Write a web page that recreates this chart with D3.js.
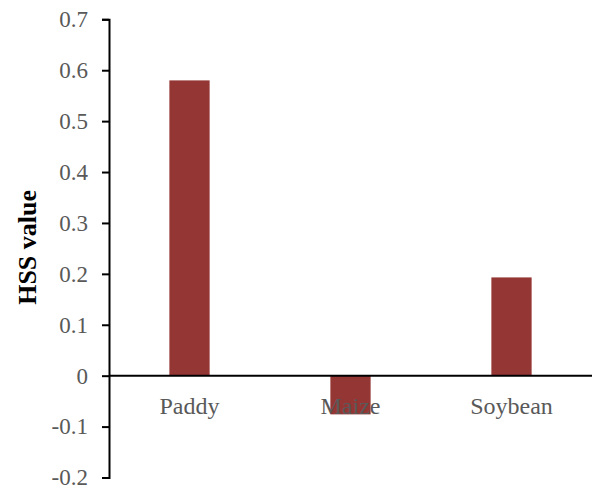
<!DOCTYPE html>
<html>
<head>
<meta charset="utf-8">
<script src="https://cdn.jsdelivr.net/npm/d3@7"></script>
<style>
  html, body { margin: 0; padding: 0; background: #fff; }
  svg { display: block; }
</style>
</head>
<body>
<svg id="chart" width="592" height="488"></svg>
<script>
// HSS score per crop
const crops = ["Paddy", "Maize", "Soybean"];
const hssValues = [0.58, -0.076, 0.193];
const yTicks = [-0.2, -0.1, 0, 0.1, 0.2, 0.3, 0.4, 0.5, 0.6, 0.7];

const svg = d3.select("#chart");
const plotLeft = 109, plotRight = 592, plotTop = 19.3, plotBottom = 477.5;

const x = d3.scaleBand().domain(crops).range([plotLeft, plotRight]).paddingInner(0.75).paddingOuter(0.375);
const y = d3.scaleLinear().domain([-0.2, 0.7]).range([plotBottom, plotTop]);

const barColor = "#943634";
const labelFont = "'Liberation Serif', 'Times New Roman', serif";

// bars
svg.append("g").selectAll("rect")
  .data(crops.map((c, i) => ({ crop: c, v: hssValues[i] })))
  .join("rect")
  .attr("x", d => x(d.crop))
  .attr("width", x.bandwidth())
  .attr("y", d => y(Math.max(0, d.v)))
  .attr("height", d => Math.abs(y(d.v) - y(0)))
  .attr("fill", barColor);

// y axis, plain hyphen for negatives
const fmt = d => d === 0 ? "0" : d.toFixed(1);
const yAxis = svg.append("g")
  .attr("transform", `translate(${plotLeft},0)`)
  .call(d3.axisLeft(y).tickValues(yTicks).tickSize(7).tickPadding(14).tickFormat(fmt));
yAxis.select(".domain").attr("stroke", "#000").attr("stroke-width", 2);
yAxis.selectAll(".tick line").attr("stroke", "#000").attr("stroke-width", 2);
yAxis.selectAll(".tick text")
  .attr("fill", "#595959")
  .style("font-family", labelFont)
  .style("font-size", "23px");

// zero baseline
svg.append("line")
  .attr("x1", plotLeft).attr("x2", plotRight)
  .attr("y1", y(0)).attr("y2", y(0))
  .attr("stroke", "#000").attr("stroke-width", 2);

// category labels
svg.append("g").selectAll("text")
  .data(crops)
  .join("text")
  .attr("x", d => x(d) + x.bandwidth() / 2)
  .attr("y", y(0) + 38)
  .attr("text-anchor", "middle")
  .attr("fill", "#595959")
  .style("font-family", labelFont)
  .style("font-size", "24px")
  .text(d => d);

// y axis title
svg.append("text")
  .attr("transform", `translate(36,${(plotTop + plotBottom) / 2 - 1}) rotate(-90)`)
  .attr("text-anchor", "middle")
  .attr("fill", "#000")
  .style("font-family", labelFont)
  .style("font-weight", "bold")
  .style("font-size", "26px")
  .text("HSS value");
</script>
</body>
</html>
